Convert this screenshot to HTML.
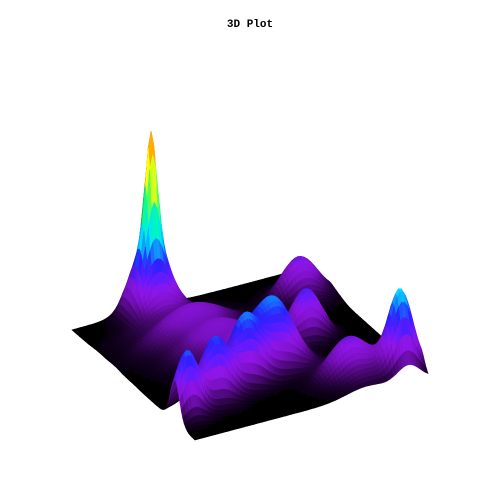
<!DOCTYPE html>
<html><head><meta charset="utf-8"><style>
html,body{margin:0;padding:0;background:#fff;width:500px;height:500px;overflow:hidden}
#title{position:absolute;left:0;width:500px;top:19px;text-align:center;font:bold 11px "Liberation Mono",monospace;color:#000}
svg{position:absolute;left:0;top:0}
</style></head><body>
<div id="title">3D Plot</div>
<svg id="plot" width="500" height="500"></svg>
<script>
// peaks on the (u,v) surface grid: u = left->front-right axis, v = front->back axis
const peakU = [0.075, 0.075, 0.66, 0.215, 0.505, 0.927, 0.84, 0.78, 0.72, 0.30, 0.87, 0.55, 0.02];
const peakV = [0.30, 0.30, 0.524, 0.865, 0.734, 0.919, 0.05, 0.2, 0.36, 0.35, 0.735, 0.40, 0.25];
const peakH = [100, 85, 65, 40, 50, 85, 65, 62, 62, 32, 40, 30, 12];
const peakW = [0.018, 0.05, 0.06, 0.06, 0.05, 0.04, 0.04, 0.05, 0.05, 0.12, 0.07, 0.1, 0.03];
const N = 80;
const P00=[72,330], PU=[123,110], PV=[233,-62];
function proj(u,v,h){return [P00[0]+PU[0]*u+PV[0]*v, P00[1]+PU[1]*u+PV[1]*v-h];}
function height(u,v){let h=0;for(let i=0;i<peakU.length;i++){const du=u-peakU[i],dv=(v-peakV[i])*0.8;h+=peakH[i]*Math.exp(-(du*du+dv*dv)/(2*peakW[i]*peakW[i]));}
 h+=3*Math.sin(u*40+v*7)*Math.min(1,h/20);return Math.max(0,h);}
const stops=[[0,[20,0,40]],[0.08,[90,10,140]],[0.2,[130,20,210]],[0.33,[40,30,255]],[0.45,[0,200,255]],[0.6,[0,240,120]],[0.78,[240,240,0]],[1,[255,110,0]]];
function cmap(t){t=Math.max(0,Math.min(1,t));for(let i=1;i<stops.length;i++){if(t<=stops[i][0]){const a=stops[i-1],b=stops[i],f=(t-a[0])/(b[0]-a[0]);return a[1].map((c,k)=>Math.round(c+(b[1][k]-c)*f));}}return stops[stops.length-1][1];}
const H=[];for(let i=0;i<=N;i++){H[i]=[];for(let j=0;j<=N;j++)H[i][j]=height(i/N,j/N);}
const quads=[];
for(let i=0;i<N;i++)for(let j=0;j<N;j++){
 const pts=[[i,j],[i+1,j],[i+1,j+1],[i,j+1]].map(p=>proj(p[0]/N,p[1]/N,H[p[0]][p[1]]));
 const c=proj((i+.5)/N,(j+.5)/N,0);
 const hm=(H[i][j]+H[i+1][j]+H[i+1][j+1]+H[i][j+1])/4;
 quads.push({pts,depth:c[1],hm,i,j});
}
quads.sort((a,b)=>a.depth-b.depth);
const svg=document.getElementById('plot');let html='';
for(const q of quads){
 let col;
 if(q.hm<2) col=[0,0,0];
 else{const base=cmap(q.hm/185);const dark=Math.min(1,0.25+q.hm/35);const slope=(H[q.i+1][q.j]-H[q.i][q.j]);const sh=Math.max(0.5,Math.min(1.1,1-slope*0.03));col=base.map(c=>Math.min(255,Math.round(c*dark*sh)));}
 const fill='rgb('+col.join(',')+')';
 html+='<polygon points="'+q.pts.map(p=>p[0].toFixed(1)+','+p[1].toFixed(1)).join(' ')+'" fill="'+fill+'" stroke="'+fill+'" stroke-width="0.6"/>';
}
svg.innerHTML=html;
</script>
</body></html>
